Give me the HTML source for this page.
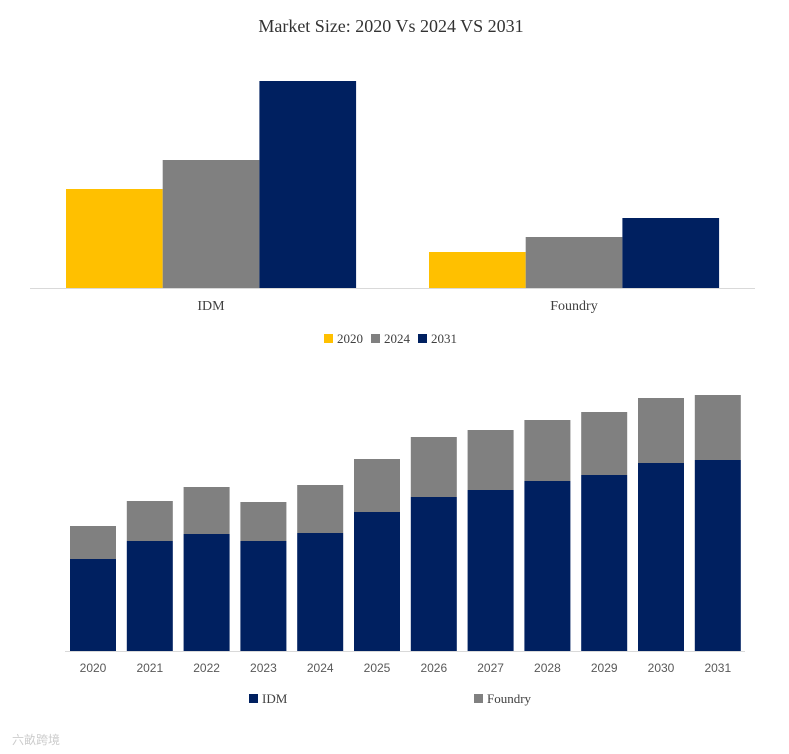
<!DOCTYPE html>
<html><head><meta charset="utf-8"><style>
body{margin:0;background:#fff;width:789px;height:754px;overflow:hidden}
svg{display:block}
.serif{font-family:"Liberation Serif",serif}
.sans{font-family:"Liberation Sans",sans-serif}
</style></head><body>
<svg id="c" width="789" height="754">
<text x="391" y="32" text-anchor="middle" class="serif" font-size="18" fill="#333">Market Size: 2020 Vs 2024 VS 2031</text>
<line x1="30" y1="288.5" x2="755" y2="288.5" stroke="#d9d9d9"/>
<line x1="65" y1="651.5" x2="745" y2="651.5" stroke="#d9d9d9"/>
<g id="top"></g><g id="bot"></g>
<text x="12" y="744" class="sans" font-size="12" fill="#ccc">六畝跨境</text>
</svg>
<script>
const topCategories=["IDM","Foundry"];
const topYears=["2020","2024","2031"];
const topColors=["#ffc000","#808080","#002060"];
const top2020=[99,36];
const top2024=[128,51];
const top2031=[207,70];
const years=["2020","2021","2022","2023","2024","2025","2026","2027","2028","2029","2030","2031"];
const idmValues=[92,110,117,110,118,139,154,161,170,176,188,191];
const foundryValues=[33,40,47,39,48,53,60,60,61,63,65,65];
const NS="http://www.w3.org/2000/svg";
function mk(p,tag,a){const e=document.createElementNS(NS,tag);for(const k in a)e.setAttribute(k,a[k]);p.appendChild(e);return e;}
const T=document.getElementById('top');
const tBase=288, tScale=1;
const tx=i=>66+i*363;
const ty=v=>tBase-v*tScale;
const series=[top2020,top2024,top2031];
topCategories.forEach((c,i)=>{
 series.forEach((s,j)=>{
  const r=mk(T,'rect',{x:tx(i)+j*96.7,y:ty(s[i]),width:96.7,height:tBase-ty(s[i]),fill:topColors[j]});
  
  
 });
 const t=mk(T,'text',{x:tx(i)+145,y:310,'text-anchor':'middle',class:'serif','font-size':14,fill:'#404040'});
 t.textContent=c;
 
 
});
const legX=[324,371,418];
topYears.forEach((y,j)=>{
 const r=mk(T,'rect',{x:legX[j],y:334,width:9,height:9,fill:topColors[j]});
 
 
 const t=mk(T,'text',{x:legX[j]+13,y:343,class:'serif','font-size':13,fill:'#404040'});
 t.textContent=y;
 
 
});
const B=document.getElementById('bot');
const bBase=651;
const bx=i=>93+i*56.8;
const by=v=>bBase-v;
years.forEach((y,i)=>{
 const r1=mk(B,'rect',{x:bx(i)-23,y:by(idmValues[i]),width:46,height:idmValues[i],fill:'#002060'});
 
 
 const r2=mk(B,'rect',{x:bx(i)-23,y:by(idmValues[i]+foundryValues[i]),width:46,height:foundryValues[i],fill:'#808080'});
 
 
 const t=mk(B,'text',{x:bx(i),y:672,'text-anchor':'middle',class:'sans','font-size':12,fill:'#595959'});
 t.textContent=y;
 
 
});
[["IDM","#002060",249],["Foundry","#808080",474]].forEach(([n,c,x])=>{
 const r=mk(B,'rect',{x:x,y:694,width:9,height:9,fill:c});
 
 
 const t=mk(B,'text',{x:x+13,y:703,class:'serif','font-size':13,fill:'#404040'});
 t.textContent=n;
 
 
});
</script>
</body></html>
